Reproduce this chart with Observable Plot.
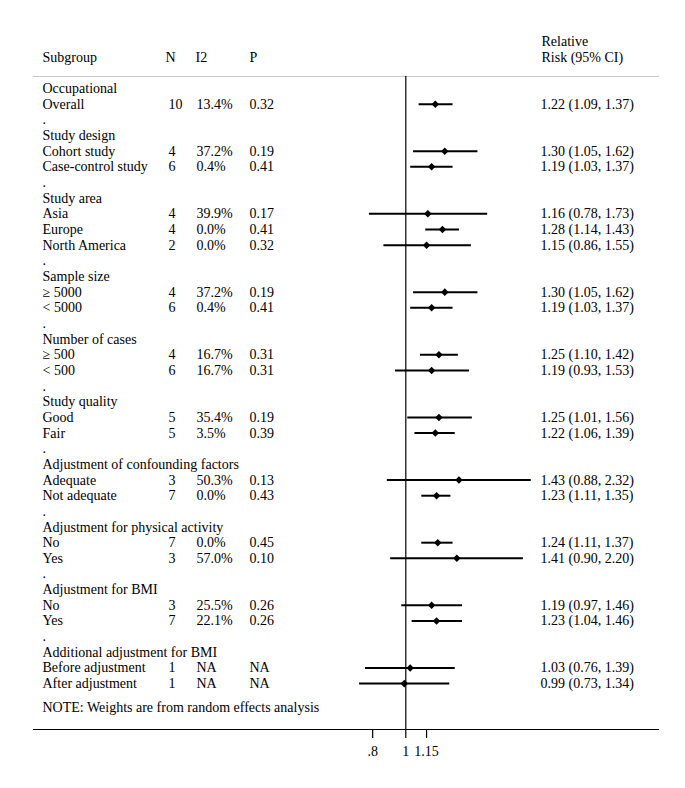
<!DOCTYPE html>
<html>
<head>
<meta charset="utf-8">
<script src="https://cdn.jsdelivr.net/npm/d3@7"></script>
<script src="https://cdn.jsdelivr.net/npm/@observablehq/plot@0.6"></script>
<style>
  html, body { margin: 0; padding: 0; background: #fff; }
  svg { display: block; }
</style>
</head>
<body>
<div id="chart"></div>
<script>
// ---- data ----
const headings = ["Occupational", "Study design", "Study area", "Sample size", "Number of cases",
  "Study quality", "Adjustment of confounding factors", "Adjustment for physical activity",
  "Adjustment for BMI", "Additional adjustment for BMI"];
const groupSizes = [1, 2, 3, 2, 2, 2, 2, 2, 2, 2];
const subgroups = ["Overall", "Cohort study", "Case-control study", "Asia", "Europe", "North America",
  "≥ 5000", "< 5000", "≥ 500", "< 500", "Good", "Fair", "Adequate", "Not adequate",
  "No", "Yes", "No", "Yes", "Before adjustment", "After adjustment"];
const nValues = [10, 4, 6, 4, 4, 2, 4, 6, 4, 6, 5, 5, 3, 7, 7, 3, 3, 7, 1, 1];
const i2Values = ["13.4%", "37.2%", "0.4%", "39.9%", "0.0%", "0.0%", "37.2%", "0.4%", "16.7%", "16.7%",
  "35.4%", "3.5%", "50.3%", "0.0%", "0.0%", "57.0%", "25.5%", "22.1%", "NA", "NA"];
const pValues = ["0.32", "0.19", "0.41", "0.17", "0.41", "0.32", "0.19", "0.41", "0.31", "0.31",
  "0.19", "0.39", "0.13", "0.43", "0.45", "0.10", "0.26", "0.26", "NA", "NA"];
const rrValues = [1.22, 1.30, 1.19, 1.16, 1.28, 1.15, 1.30, 1.19, 1.25, 1.19, 1.25, 1.22, 1.43, 1.23,
  1.24, 1.41, 1.19, 1.23, 1.03, 0.99];
const loValues = [1.09, 1.05, 1.03, 0.78, 1.14, 0.86, 1.05, 1.03, 1.10, 0.93, 1.01, 1.06, 0.88, 1.11,
  1.11, 0.90, 0.97, 1.04, 0.76, 0.73];
const hiValues = [1.37, 1.62, 1.37, 1.73, 1.43, 1.55, 1.62, 1.37, 1.42, 1.53, 1.56, 1.39, 2.32, 1.35,
  1.37, 2.20, 1.46, 1.46, 1.39, 1.34];
const headerCols = ["Subgroup", "N", "I2", "P"];
const headerCI = ["Relative", "Risk (95% CI)"];
const note = "NOTE: Weights are from random effects analysis";
const xTicks = [0.8, 1, 1.15];
const xTickLabels = [".8", "1", "1.15"];

// ---- build row table ----
const labelRows = [];
const estRows = [];
let row = 0, k = 0;
headings.forEach((h, g) => {
  labelRows.push({row, label: h});
  row++;
  for (let j = 0; j < groupSizes[g]; j++, k++) {
    labelRows.push({row, label: subgroups[k]});
    estRows.push({row, n: String(nValues[k]), i2: i2Values[k], p: pValues[k],
      rr: rrValues[k], lo: loValues[k], hi: hiValues[k]});
    row++;
  }
  if (g < headings.length - 1) { labelRows.push({row, label: "."}); row++; }
});
const lastRow = row - 1;
const noteRow = [{row: lastRow + 1.5, label: note}];
const headerRows = [{row: -2}];
const tickRows = xTicks.map((v, i) => ({v, label: xTickLabels[i]}));

const f2 = d3.format(".2f");
const font = "Liberation Serif, Times New Roman, serif";
const fs = 14;

// layout (pixels)
const colOffset = {sub: 9, n: 135, i2: 163, p: 216, ci: 507};
const hdrOffset = {sub: 9, n: 132, i2: 162, p: 216, ci: 508};

const chart = Plot.plot({
  width: 685,
  height: 788,
  marginLeft: 33,
  marginRight: 27,
  marginTop: 76,
  marginBottom: 59,
  style: {fontFamily: font, fontSize: fs + "px", color: "#000", background: "#fff"},
  x: {type: "log", domain: [0.0815, 5.483]},
  y: {domain: [-0.77, 40.93], reverse: true, axis: null},
  marks: [
    Plot.frame({anchor: "top", stroke: "#c8c8c8", strokeWidth: 1.2}),
    Plot.frame({anchor: "bottom", stroke: "#000", strokeWidth: 1.2}),
    Plot.ruleX([1], {stroke: "#000", strokeWidth: 1.2}),
    Plot.axisX({ticks: xTicks, text: null, tickSize: 9, strokeWidth: 1.2, label: null, anchor: "bottom"}),
    Plot.text(tickRows, {x: "v", text: "label", frameAnchor: "bottom", lineAnchor: "middle", dy: 22, fontSize: fs}),
    // CI lines and point estimates
    Plot.link(estRows, {x1: "lo", x2: "hi", y1: "row", y2: "row", stroke: "#000", strokeWidth: 2}),
    Plot.dot(estRows, {x: "rr", y: "row", symbol: "square", rotate: 45, r: 3, fill: "#000", stroke: null}),
    // header
    Plot.text(headerRows, {y: "row", text: () => headerCols[0], frameAnchor: "left", dx: hdrOffset.sub, textAnchor: "start"}),
    Plot.text(headerRows, {y: "row", text: () => headerCols[1], frameAnchor: "left", dx: hdrOffset.n, textAnchor: "start"}),
    Plot.text(headerRows, {y: "row", text: () => headerCols[2], frameAnchor: "left", dx: hdrOffset.i2, textAnchor: "start"}),
    Plot.text(headerRows, {y: "row", text: () => headerCols[3], frameAnchor: "left", dx: hdrOffset.p, textAnchor: "start"}),
    Plot.text([{row: -3, t: headerCI[0]}, {row: -2, t: headerCI[1]}], {y: "row", text: "t", frameAnchor: "left", dx: hdrOffset.ci, textAnchor: "start"}),
    // rows
    Plot.text(labelRows, {y: "row", text: "label", frameAnchor: "left", dx: colOffset.sub, textAnchor: "start"}),
    Plot.text(estRows, {y: "row", text: "n", frameAnchor: "left", dx: colOffset.n, textAnchor: "start"}),
    Plot.text(estRows, {y: "row", text: "i2", frameAnchor: "left", dx: colOffset.i2, textAnchor: "start"}),
    Plot.text(estRows, {y: "row", text: "p", frameAnchor: "left", dx: colOffset.p, textAnchor: "start"}),
    Plot.text(estRows, {y: "row", text: d => `${f2(d.rr)} (${f2(d.lo)}, ${f2(d.hi)})`, frameAnchor: "left", dx: colOffset.ci, textAnchor: "start"}),
    Plot.text(noteRow, {y: "row", text: "label", frameAnchor: "left", dx: colOffset.sub, textAnchor: "start"})
  ]
});
document.getElementById("chart").appendChild(chart);
</script>
</body>
</html>
